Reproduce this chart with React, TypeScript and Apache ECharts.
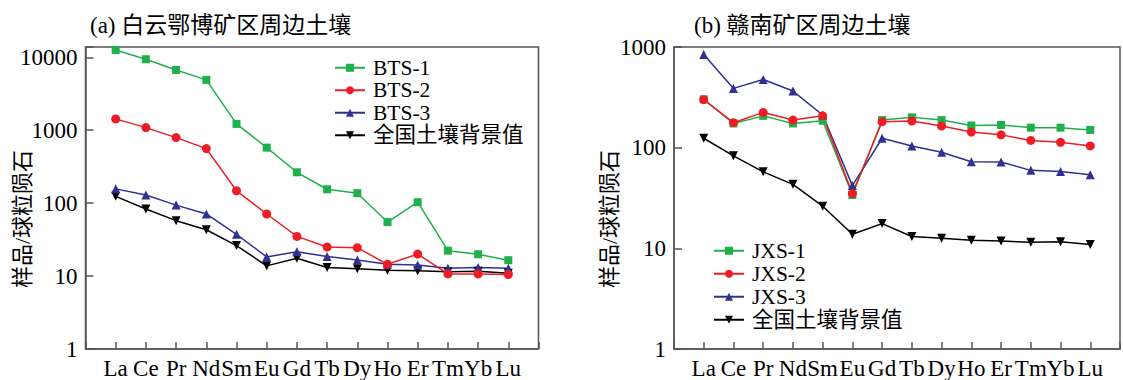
import React, { useEffect, useRef } from "react";
import * as echarts from "echarts";

const elements = ["La", "Ce", "Pr", "Nd", "Sm", "Eu", "Gd", "Tb", "Dy", "Ho", "Er", "Tm", "Yb", "Lu"];
const categories = ["", ...elements, ""];

const bts1 = [12600, 9400, 6700, 4900, 1220, 577, 265, 155, 137, 55, 103, 22.3, 19.9, 16.5];
const bts2 = [1430, 1086, 792, 560, 148, 71, 35, 25, 24.5, 14.5, 20, 10.7, 10.7, 10.5];
const bts3 = [157, 129, 94, 71, 37.4, 18.3, 21.6, 18.5, 16.6, 14.5, 14.2, 12.8, 13.1, 12.8];
const background = [124, 83, 57.5, 43.2, 26.2, 13.8, 17.6, 13.1, 12.6, 12.0, 11.8, 11.5, 11.6, 10.9];

const jxs1 = [302, 174, 207, 174, 185, 33.8, 188, 200, 188, 166, 168, 158, 158, 150];
const jxs2 = [300, 177, 224, 188, 207, 35, 181, 184, 164, 143, 134, 118, 113, 104];
const jxs3 = [844, 388, 476, 365, 211, 42, 124, 104, 90, 72.5, 72, 59.5, 58, 53.8];

const leftTitle = "(a) 白云鄂博矿区周边土壤";
const rightTitle = "(b) 赣南矿区周边土壤";
const yName = "样品/球粒陨石";
const bgName = "全国土壤背景值";

const GREEN = "#1fb04b";
const RED = "#ee1c24";
const BLUE = "#2e3192";
const BLACK = "#000000";
const AXIS = "#555555";
const FONT = "'Liberation Serif', 'Noto Sans CJK SC', serif";

function toPairs(vals: number[]) {
  return vals.map((v, i) => [elements[i], v]);
}

function mkSeries(name: string, vals: number[], color: string, symbol: string, size: number, axisIdx: number, rotate = 0) {
  return {
    name,
    type: "line",
    xAxisIndex: axisIdx,
    yAxisIndex: axisIdx,
    data: toPairs(vals),
    symbol,
    symbolSize: size,
    symbolRotate: rotate,
    lineStyle: { color, width: 1.5 },
    itemStyle: { color },
    z: 3,
  };
}

function isPow10(v: number) {
  const l = Math.log10(v);
  return Math.abs(l - Math.round(l)) < 1e-6;
}

export default function App() {
  const ref = useRef<HTMLDivElement>(null);
  useEffect(() => {
    document.body.style.margin = "0";
    const chart = echarts.init(ref.current!, undefined, { renderer: "svg" });
    const xAxisBase = {
      type: "category",
      data: categories,
      boundaryGap: false,
      axisLine: { lineStyle: { color: AXIS, width: 1.5 } },
      axisTick: { inside: true, length: 7, interval: 0, lineStyle: { color: AXIS, width: 1.5 } },
      axisLabel: { interval: 0, color: BLACK, fontSize: 23, fontFamily: FONT, margin: 8 },
      splitLine: { show: false },
    };
    const yAxisBase = {
      type: "log",
      min: 1,
      logBase: 10,
      axisLine: { show: true, lineStyle: { color: AXIS, width: 1.5 } },
      axisTick: { show: true, inside: true, length: 8, lineStyle: { color: AXIS, width: 1.5 } },
      axisLabel: {
        color: BLACK,
        fontSize: 23,
        fontFamily: FONT,
        margin: 8,
        formatter: (v: number) => (isPow10(v) ? String(Math.round(v)) : ""),
      },
      splitLine: { show: false },
      minorTick: { show: false },
    };
    const legendBase = {
      orient: "vertical",
      itemWidth: 30,
      itemHeight: 10,
      textStyle: { color: BLACK, fontSize: 21.5, fontFamily: FONT, lineHeight: 21.5, padding: [0, 0, 0, 3] },
    };
    const titleStyle = { fontSize: 23, fontWeight: "normal", fontFamily: FONT, color: BLACK };
    chart.setOption({
      animation: false,
      backgroundColor: "#ffffff",
      title: [
        { text: leftTitle, left: 85, top: 9, textStyle: titleStyle },
        { text: rightTitle, left: 689, top: 9, textStyle: titleStyle },
      ],
      graphic: [
        {
          type: "text",
          x: 22,
          y: 219,
          rotation: Math.PI / 2,
          style: { text: yName, fontSize: 22, fontFamily: FONT, fill: BLACK, align: "center", verticalAlign: "middle" },
        },
        {
          type: "text",
          x: 609,
          y: 219,
          rotation: Math.PI / 2,
          style: { text: yName, fontSize: 22, fontFamily: FONT, fill: BLACK, align: "center", verticalAlign: "middle" },
        },
      ],
      grid: [
        { left: 85.5, top: 47, width: 453, height: 302, show: true, borderColor: AXIS, borderWidth: 1.5, backgroundColor: "transparent" },
        { left: 674, top: 47, width: 453, height: 302, show: true, borderColor: AXIS, borderWidth: 1.5, backgroundColor: "transparent" },
      ],
      xAxis: [
        { ...xAxisBase, gridIndex: 0 },
        { ...xAxisBase, gridIndex: 1 },
      ],
      yAxis: [
        { ...yAxisBase, gridIndex: 0, max: 13840 },
        { ...yAxisBase, gridIndex: 1, max: 1000 },
      ],
      legend: [
        { ...legendBase, left: 329, top: 52, itemGap: 1, data: ["BTS-1", "BTS-2", "BTS-3", bgName] },
        { ...legendBase, left: 708, top: 235, itemGap: 1.5, data: ["JXS-1", "JXS-2", "JXS-3", bgName] },
      ],
      series: [
        mkSeries(bgName, background, BLACK, "triangle", 9, 0, 180),
        mkSeries("BTS-3", bts3, BLUE, "triangle", 9, 0),
        mkSeries("BTS-1", bts1, GREEN, "rect", 8, 0),
        mkSeries("BTS-2", bts2, RED, "circle", 9, 0),
        mkSeries(bgName, background, BLACK, "triangle", 9, 1, 180),
        mkSeries("JXS-1", jxs1, GREEN, "rect", 8, 1),
        mkSeries("JXS-3", jxs3, BLUE, "triangle", 9, 1),
        mkSeries("JXS-2", jxs2, RED, "circle", 9, 1),
      ],
    });
    return () => chart.dispose();
  }, []);
  return <div ref={ref} style={{ width: 1123, height: 380 }} />;
}
